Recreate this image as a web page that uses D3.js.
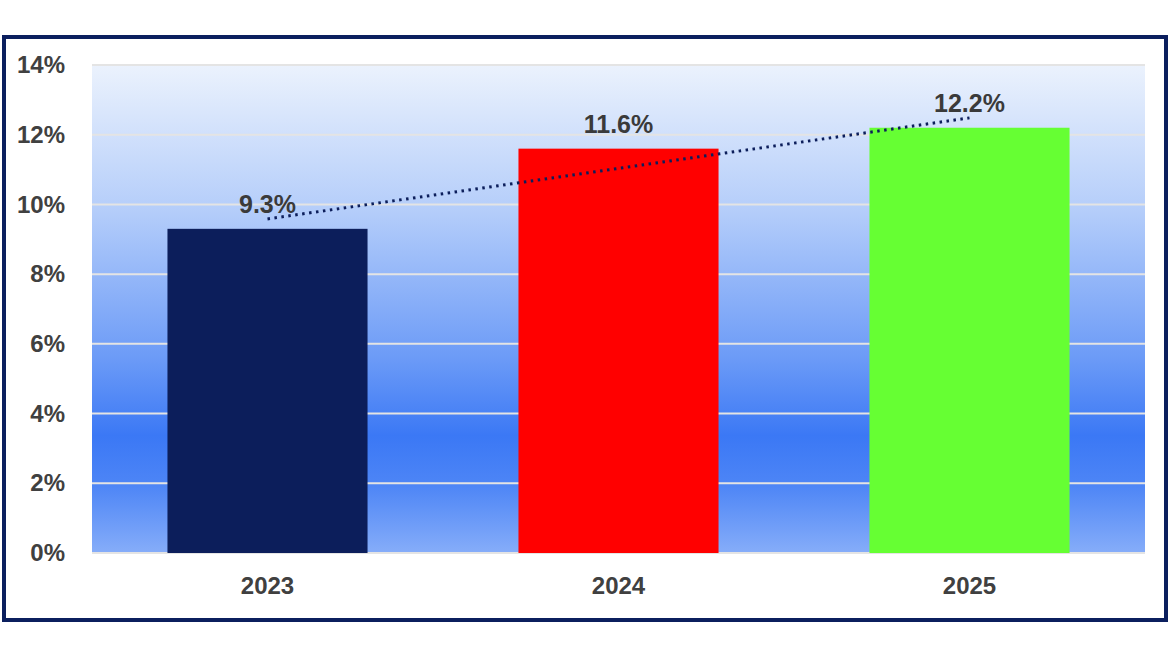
<!DOCTYPE html>
<html>
<head>
<meta charset="utf-8">
<script src="https://cdn.jsdelivr.net/npm/d3@7"></script>
<style>
  html, body { margin: 0; padding: 0; background: #fff; }
  svg { display: block; }
</style>
</head>
<body>
<svg id="chart" width="1170" height="658"></svg>
<script>
const years = ["2023", "2024", "2025"];
const rates = [9.3, 11.6, 12.2];
const barColors = ["#0c1e5b", "#ff0000", "#66ff33"];
const yTicks = [0, 2, 4, 6, 8, 10, 12, 14];

const width = 1170, height = 658;
const margin = { left: 92, right: 25, top: 65, bottom: 105 };
const innerWidth = width - margin.left - margin.right;
const innerHeight = height - margin.top - margin.bottom;

const svg = d3.select("#chart");

// outer frame
svg.append("rect")
   .attr("x", 4).attr("y", 37)
   .attr("width", 1162).attr("height", 583)
   .attr("fill", "#fff")
   .attr("stroke", "#0b1f5e")
   .attr("stroke-width", 4);

// background gradient
const grad = svg.append("defs").append("linearGradient")
                .attr("id", "bg").attr("x1", 0).attr("y1", 0).attr("x2", 0).attr("y2", 1);
grad.append("stop").attr("offset", "0%").attr("stop-color", "#ebf2fd");
grad.append("stop").attr("offset", "30%").attr("stop-color", "#b4cdfa");
grad.append("stop").attr("offset", "60%").attr("stop-color", "#6c9bf7");
grad.append("stop").attr("offset", "76%").attr("stop-color", "#3b78f5");
grad.append("stop").attr("offset", "86%").attr("stop-color", "#4d85f6");
grad.append("stop").attr("offset", "100%").attr("stop-color", "#86adf9");

const g = svg.append("g")
             .attr("transform", `translate(${margin.left}, ${margin.top})`);

const xScale = d3.scaleBand()
                 .domain(years)
                 .range([0, innerWidth])
                 .paddingInner(0.43)
                 .paddingOuter(0.215);

const yScale = d3.scaleLinear()
                 .domain([0, 14])
                 .range([innerHeight, 0]);

g.append("rect")
 .attr("width", innerWidth)
 .attr("height", innerHeight)
 .attr("fill", "url(#bg)");

// gridlines
g.selectAll(".grid")
 .data(yTicks)
 .enter()
 .append("line")
    .attr("class", "grid")
    .attr("x1", 0).attr("x2", innerWidth)
    .attr("y1", d => yScale(d)).attr("y2", d => yScale(d))
    .attr("stroke", "#e4e4e4")
    .attr("stroke-width", 2);

// bars
g.selectAll(".bar")
 .data(rates)
 .enter()
 .append("rect")
    .attr("class", "bar")
    .attr("x", (d, i) => xScale(years[i]))
    .attr("y", d => yScale(d))
    .attr("width", xScale.bandwidth())
    .attr("height", d => innerHeight - yScale(d))
    .attr("fill", (d, i) => barColors[i]);

// linear trendline (least squares)
const xs = rates.map((d, i) => i + 1);
const mx = d3.mean(xs), my = d3.mean(rates);
const slope = d3.sum(xs, (x, i) => (x - mx) * (rates[i] - my)) / d3.sum(xs, x => (x - mx) ** 2);
const icpt = my - slope * mx;
const trend = years.map((yr, i) => ({ x: xScale(yr) + xScale.bandwidth() / 2, y: yScale(icpt + slope * (i + 1)) }));

g.append("path")
 .datum(trend)
 .attr("d", d3.line().x(d => d.x).y(d => d.y))
 .attr("fill", "none")
 .attr("stroke", "#0c1e5b")
 .attr("stroke-width", 3)
 .attr("stroke-dasharray", "2.5 4.5");

// value labels
g.selectAll(".val")
 .data(rates)
 .enter()
 .append("text")
    .attr("class", "val")
    .attr("x", (d, i) => xScale(years[i]) + xScale.bandwidth() / 2)
    .attr("y", d => yScale(d) - 16)
    .attr("text-anchor", "middle")
    .attr("font-family", "Liberation Sans, Arial, sans-serif")
    .attr("font-weight", "bold")
    .attr("font-size", 25)
    .attr("fill", "#3a3a3a")
    .text(d => d.toFixed(1) + "%");

// axes
const yAxis = d3.axisLeft(yScale).tickValues(yTicks).tickFormat(d => d + "%").tickSize(0).tickPadding(27);
const xAxis = d3.axisBottom(xScale).tickSize(0).tickPadding(24);

const ya = g.append("g").attr("id", "y-axis").call(yAxis);
const xa = g.append("g").attr("id", "x-axis")
            .attr("transform", `translate(0, ${innerHeight})`)
            .call(xAxis);

[ya, xa].forEach(a => {
  a.select(".domain").remove();
  a.selectAll("text")
   .attr("font-family", "Liberation Sans, Arial, sans-serif")
   .attr("font-weight", "bold")
   .attr("font-size", 24)
   .attr("fill", "#404040");
});
</script>
</body>
</html>
